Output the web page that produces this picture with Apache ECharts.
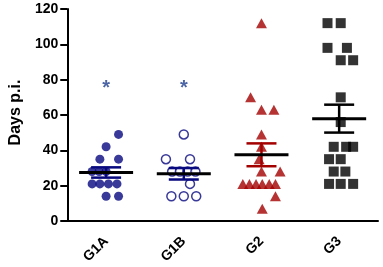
<!DOCTYPE html>
<html>
<head>
<meta charset="utf-8">
<script src="https://cdn.jsdelivr.net/npm/echarts@6/dist/echarts.min.js"></script>
<style>
  html, body { margin: 0; padding: 0; background: #fff; }
  #chart { width: 383px; height: 267px; }
</style>
</head>
<body>
<div id="chart"></div>
<script>
// groups on the x axis
const categories = ['G1A', 'G1B', 'G2', 'G3'];
const yTicks = [0, 20, 40, 60, 80, 100, 120];

// days p.i. per animal, with the horizontal scatter offset (in category widths)
const g1aDays   = [49, 42, 35, 35, 28, 28, 28, 21, 21, 21, 21, 14, 14];
const g1aJitter = [0.16, 0, -0.08, 0.16, -0.18, -0.09, 0, -0.18, -0.08, 0.03, 0.14, 0, 0.16];

const g1bDays   = [49, 35, 35, 28, 28, 28, 28, 21, 14, 14, 14];
const g1bJitter = [0, -0.23, 0.08, -0.15, -0.05, 0.05, 0.15, 0.08, -0.16, 0, 0.16];

const g2Days    = [112, 70, 63, 63, 49, 42, 35, 28, 28, 21, 21, 21, 21, 21, 21, 14, 7];
const g2Jitter  = [0, -0.14, 0, 0.16, 0, 0, -0.03, 0, 0.24, -0.24, -0.155, -0.07, 0.01, 0.1, 0.18, 0.18, 0.01];

const g3Days    = [112, 112, 98, 98, 91, 91, 70, 56, 42, 42, 42, 35, 35, 28, 28, 21, 21, 21];
const g3Jitter  = [-0.15, 0.02, -0.15, 0.1, 0.02, 0.18, 0.02, 0.02, -0.07, 0.09, 0.18, -0.13, 0.02, -0.07, 0.08, -0.13, 0.02, 0.18];

// significance marks
const starGroups = ['G1A', 'G1B'];
const starDays = [77, 77];

const groupColors = ['#08087f', '#08087f', '#a30000', '#000000'];
const FONT = 'Liberation Sans, Arial, sans-serif';

function points(days, jitter, idx) {
    return days.map(function (d, i) { return [idx + 0.5 + jitter[i], d]; });
}

function meanSem(days) {
    var n = days.length;
    var mean = days.reduce(function (a, b) { return a + b; }, 0) / n;
    var ss = days.reduce(function (a, b) { return a + (b - mean) * (b - mean); }, 0);
    var sd = Math.sqrt(ss / (n - 1));
    return [mean, sd / Math.sqrt(n)];
}

const allDays = [g1aDays, g1bDays, g2Days, g3Days];
const summary = allDays.map(function (d, i) {
    var ms = meanSem(d);
    return [i + 0.5, ms[0], ms[1], i];
});

function renderMean(params, api) {
    var x = api.value(0), mean = api.value(1), sem = api.value(2);
    var color = groupColors[api.value(3)];
    var pm = api.coord([x, mean]);
    var pt = api.coord([x, mean + sem]);
    var pb = api.coord([x, mean - sem]);
    var cap = 15, half = 27;
    return {
        type: 'group',
        children: [
            { type: 'line', shape: { x1: pt[0], y1: pt[1], x2: pb[0], y2: pb[1] }, style: { stroke: color, lineWidth: 2.5 } },
            { type: 'line', shape: { x1: pt[0] - cap, y1: pt[1], x2: pt[0] + cap, y2: pt[1] }, style: { stroke: color, lineWidth: 2.5 } },
            { type: 'line', shape: { x1: pb[0] - cap, y1: pb[1], x2: pb[0] + cap, y2: pb[1] }, style: { stroke: color, lineWidth: 2.5 } },
            { type: 'line', shape: { x1: pm[0] - half, y1: pm[1], x2: pm[0] + half, y2: pm[1] }, style: { stroke: '#000', lineWidth: 3 } }
        ]
    };
}

const chart = echarts.init(document.getElementById('chart'), null, { renderer: 'canvas' });
chart.setOption({
    animation: false,
    backgroundColor: '#fff',
    grid: { left: 59, right: 5, top: 9, bottom: 46 },
    xAxis: [
        {
            type: 'category',
            data: categories,
            boundaryGap: true,
            axisLine: { lineStyle: { color: '#000', width: 2 } },
            axisTick: { alignWithLabel: true, length: 6, lineStyle: { color: '#000', width: 2 } },
            axisLabel: { rotate: 45, color: '#000', fontWeight: 'bold', fontSize: 14, fontFamily: FONT, margin: 18 },
            splitLine: { show: false }
        },
        {
            type: 'value',
            min: 0,
            max: 4,
            show: false
        }
    ],
    yAxis: {
        type: 'value',
        min: yTicks[0],
        max: yTicks[yTicks.length - 1],
        interval: 20,
        name: 'Days p.i.',
        nameLocation: 'middle',
        nameGap: 42,
        nameTextStyle: { color: '#000', fontWeight: 'bold', fontSize: 16, fontFamily: FONT, padding: [0, 0, 0, 5] },
        axisLine: { show: true, lineStyle: { color: '#000', width: 2 } },
        axisTick: { show: true, length: 7, lineStyle: { color: '#000', width: 2 } },
        axisLabel: { color: '#000', fontWeight: 'bold', fontSize: 14, fontFamily: FONT, margin: 9 },
        splitLine: { show: false }
    },
    series: [
        {
            type: 'scatter', xAxisIndex: 1,
            symbol: 'circle', symbolSize: 9,
            itemStyle: { color: groupColors[0] },
            data: points(g1aDays, g1aJitter, 0)
        },
        {
            type: 'scatter', xAxisIndex: 1,
            symbol: 'circle', symbolSize: 9,
            itemStyle: { color: '#fff', borderColor: groupColors[1], borderWidth: 1.5 },
            data: points(g1bDays, g1bJitter, 1)
        },
        {
            type: 'scatter', xAxisIndex: 1,
            symbol: 'triangle', symbolSize: [11, 10],
            itemStyle: { color: groupColors[2] },
            data: points(g2Days, g2Jitter, 2)
        },
        {
            type: 'scatter', xAxisIndex: 1,
            symbol: 'rect', symbolSize: 10,
            itemStyle: { color: groupColors[3] },
            data: points(g3Days, g3Jitter, 3)
        },
        {
            type: 'custom', xAxisIndex: 1,
            renderItem: renderMean,
            data: summary,
            z: 5
        },
        {
            type: 'scatter', xAxisIndex: 1,
            symbolSize: 0,
            label: {
                show: true, position: 'inside', formatter: '*',
                color: '#1f3f8f', fontSize: 20, fontWeight: 'bold', fontFamily: FONT, offset: [0, 4]
            },
            data: starGroups.map(function (g, i) { return [categories.indexOf(g) + 0.5, starDays[i]]; })
        }
    ]
});
</script>
</body>
</html>
